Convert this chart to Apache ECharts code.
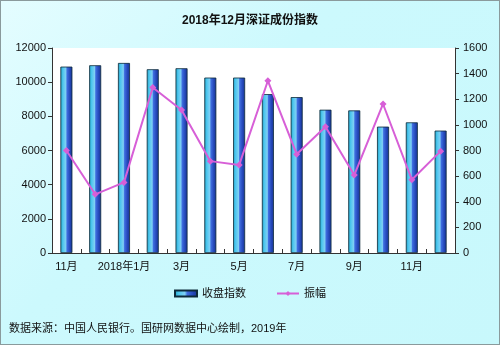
<!DOCTYPE html>
<html>
<head>
<meta charset="utf-8">
<script src="https://cdn.jsdelivr.net/npm/echarts@6/dist/echarts.min.js"></script>
<style>
  html, body { margin: 0; padding: 0; }
  #chart { width: 500px; height: 345px; box-sizing: border-box; border: 1px solid #8a9a9c;
           background: linear-gradient(135deg, #e4fdff 0%, #ccf9fd 40%, #c8f8fc 100%); }
</style>
</head>
<body>
<div id="chart"></div>
<script>
// Month labels (Nov 2017 – Dec 2018)
const months = ['11月', '12月', '2018年1月', '2月', '3月', '4月', '5月', '6月', '7月', '8月', '9月', '10月', '11月', '12月'];
// Month-end closing index
const closeIndex = [10910, 10990, 11124, 10757, 10815, 10268, 10268, 9300, 9125, 8387, 8347, 7397, 7648, 7164];
// Monthly range (amplitude)
const amplitude = [800, 458, 551, 1292, 1116, 717, 686, 1344, 771, 986, 608, 1163, 572, 795];

const chart = echarts.init(document.getElementById('chart'), null, { renderer: 'canvas' });
const font = 'Arial, "Liberation Sans", "Noto Sans CJK SC", sans-serif';
const barFill = new echarts.graphic.LinearGradient(0, 0, 1, 0, [
  { offset: 0, color: '#1f9fc0' },
  { offset: 0.2, color: '#4cc6ee' },
  { offset: 0.45, color: '#7fd0f4' },
  { offset: 0.55, color: '#3f6ee0' },
  { offset: 0.8, color: '#2447b8' },
  { offset: 1, color: '#1a3590' }
]);
const plain = v => String(v);

chart.setOption({
  animation: false,
  textStyle: { fontFamily: font },
  title: {
    text: '2018年12月深证成份指数',
    left: 'center', top: 9,
    textStyle: { fontSize: 12, fontWeight: 'bold', color: '#111', fontFamily: font }
  },
  legend: {
    bottom: 40, left: 'center',
    itemWidth: 22, itemHeight: 6, itemGap: 30,
    textStyle: { fontSize: 11, color: '#111' },
    data: [
      { name: '收盘指数', icon: 'rect' },
      { name: '振幅' }
    ]
  },
  graphic: [{
    type: 'text', left: 8, top: 322,
    style: { text: '数据来源：中国人民银行。国研网数据中心绘制，2019年', fontSize: 11, fill: '#111', fontFamily: font }
  }],
  grid: { left: 51, right: 44, top: 47, bottom: 91, backgroundColor: '#ffffff', show: true, borderWidth: 0 },
  xAxis: {
    type: 'category', data: months, boundaryGap: true,
    axisLine: { lineStyle: { color: '#333' } },
    axisTick: { show: true, interval: 0, length: 4, inside: true, lineStyle: { color: '#333' } },
    axisLabel: { interval: 1, fontSize: 11, color: '#111', margin: 8 }
  },
  yAxis: [{
    type: 'value', min: 0, max: 12000, interval: 2000,
    axisLine: { show: true, lineStyle: { color: '#333' } },
    axisTick: { show: true, length: 4, lineStyle: { color: '#333' } },
    axisLabel: { fontSize: 11, color: '#111', margin: 6, formatter: plain },
    splitLine: { show: false }
  }, {
    type: 'value', min: 0, max: 1600, interval: 200, position: 'right',
    axisLine: { show: true, lineStyle: { color: '#333' } },
    axisTick: { show: true, length: 4, lineStyle: { color: '#333' } },
    axisLabel: { fontSize: 11, color: '#111', margin: 8, formatter: plain },
    splitLine: { show: false }
  }],
  series: [{
    name: '收盘指数', type: 'bar', data: closeIndex, yAxisIndex: 0,
    barWidth: 12,
    itemStyle: { color: barFill, borderColor: '#0d2a3a', borderWidth: 0.8 }
  }, {
    name: '振幅', type: 'line', data: amplitude, yAxisIndex: 1,
    symbol: 'diamond', symbolSize: 7,
    lineStyle: { color: '#d75fd7', width: 2 },
    itemStyle: { color: '#d75fd7' }
  }]
});
</script>
</body>
</html>
